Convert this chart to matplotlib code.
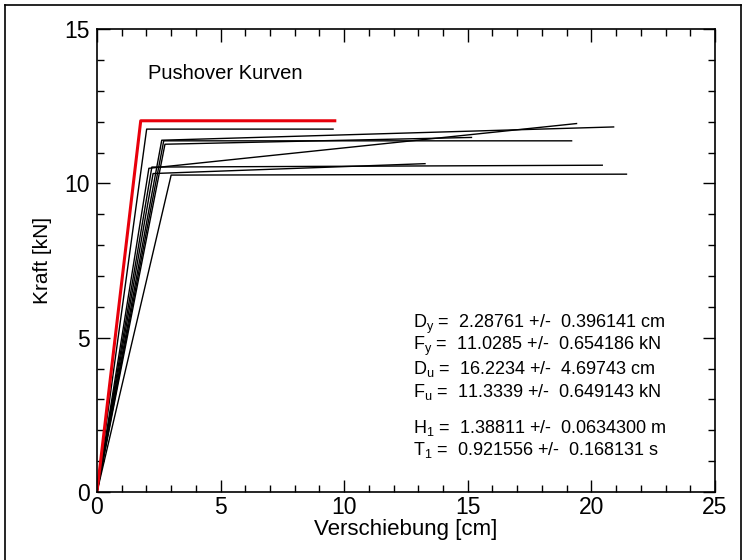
import matplotlib
matplotlib.use("Agg")
import matplotlib.pyplot as plt
from matplotlib.lines import Line2D
from matplotlib.ticker import MultipleLocator

plt.rcParams["font.family"] = ["Liberation Sans", "DejaVu Sans"]
plt.rcParams["mathtext.fontset"] = "custom"
plt.rcParams["mathtext.rm"] = "Liberation Sans"
plt.rcParams["mathtext.it"] = "Liberation Sans"

# bilinear pushover curves: (0,0) -> (Dy,Fy) -> (Du,Fu)
dy_cm = [2.01, 2.62, 2.70, 2.75, 2.10, 2.22, 2.27, 3.00]
fy_kn = [11.76, 11.40, 11.38, 11.27, 10.49, 10.53, 10.32, 10.27]
du_cm = [9.55, 20.90, 19.20, 15.15, 19.40, 20.44, 13.27, 21.42]
fu_kn = [11.76, 11.83, 11.38, 11.49, 11.94, 10.59, 10.64, 10.30]

# highlighted curve
red_dy, red_fy, red_du, red_fu = 1.77, 12.03, 9.62, 12.03

stats_lines = [
    r"D$_y$ =  2.28761 +/-  0.396141 cm",
    r"F$_y$ =  11.0285 +/-  0.654186 kN",
    r"D$_u$ =  16.2234 +/-  4.69743 cm",
    r"F$_u$ =  11.3339 +/-  0.649143 kN",
    r"H$_1$ =  1.38811 +/-  0.0634300 m",
    r"T$_1$ =  0.921556 +/-  0.168131 s",
]

fig = plt.figure(figsize=(7.46, 5.6), dpi=100)
ax = fig.add_axes([0.130, 0.1214, 0.8284, 0.8266])

for d1, f1, d2, f2 in zip(dy_cm, fy_kn, du_cm, fu_kn):
    ax.plot([0, d1, d2], [0, f1, f2], color="black", lw=1.0)
ax.plot([0, red_dy, red_du], [0, red_fy, red_fu], color="#e8000b", lw=2.2)

ax.set_xlim(0, 25)
ax.set_ylim(0, 15)
ax.xaxis.set_major_locator(MultipleLocator(5))
ax.xaxis.set_minor_locator(MultipleLocator(1))
ax.yaxis.set_major_locator(MultipleLocator(5))
ax.yaxis.set_minor_locator(MultipleLocator(1))
ax.tick_params(which="both", direction="in", top=True, right=True,
               labelsize=16.5, width=1.0)
ax.tick_params(which="major", length=9, pad=5)
ax.tick_params(axis="x", which="major", pad=3)
ax.tick_params(which="minor", length=5)
for s in ax.spines.values():
    s.set_linewidth(1.2)

ax.set_xlabel("Verschiebung [cm]", fontsize=16, labelpad=0)
ax.set_ylabel("Kraft [kN]", fontsize=15, labelpad=9)

ax.text(2.06, 13.57, "Pushover Kurven", fontsize=14.5, va="center", ha="left")

ys = [324, 346, 369, 392, 428, 450]
for txt, yp in zip(stats_lines, ys):
    ax.text(413 / 746, 1 - yp / 560, txt, transform=fig.transFigure,
            fontsize=13, va="center", ha="left")

# outer frame (left, top, right)
fx0, fx1 = 5 / 746, 741 / 746
fy0 = 1 - 5 / 560
for xs, ys_ in [([fx0, fx0], [0, fy0]), ([fx0, fx1], [fy0, fy0]), ([fx1, fx1], [fy0, 0])]:
    fig.add_artist(Line2D(xs, ys_, transform=fig.transFigure, color="black", lw=1.2))

fig.savefig("out.png", dpi=100)
